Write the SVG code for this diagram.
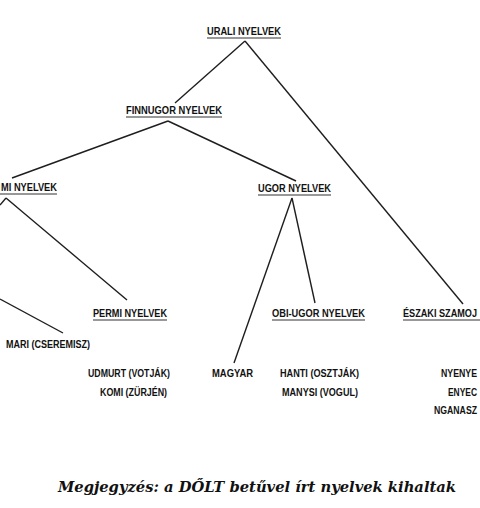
<svg xmlns="http://www.w3.org/2000/svg" width="480" height="508" viewBox="0 0 480 508">
<style>
.t{font-family:"Liberation Sans",Arial,sans-serif;font-weight:bold;font-size:11px;fill:#111}
.u{stroke:#333;stroke-width:1.2}
.c{stroke:#1e1e1e;stroke-width:1.4;fill:none}
.n{font-family:"DejaVu Serif","Liberation Serif",serif;font-weight:bold;font-style:italic;font-size:15px;fill:#111}
</style>
<rect width="480" height="508" fill="#fff"/>
<g id="connectors">
<line class="c" x1="245" y1="41" x2="175" y2="103"/>
<line class="c" x1="245" y1="41" x2="463" y2="304"/>
<line class="c" x1="168" y1="121" x2="12" y2="178"/>
<line class="c" x1="168" y1="121" x2="296" y2="181"/>
<line class="c" x1="6" y1="198" x2="0" y2="205"/>
<line class="c" x1="6" y1="198" x2="127" y2="300"/>
<line class="c" x1="0" y1="299" x2="63" y2="333"/>
<line class="c" x1="292" y1="198" x2="234" y2="363"/>
<line class="c" x1="292" y1="198" x2="315" y2="303"/>
</g>
<g id="urali"><text class="t" x="207" y="35" textLength="74" lengthAdjust="spacingAndGlyphs">URALI NYELVEK</text><line class="u" x1="207" y1="38" x2="281" y2="38"/></g>
<g id="finnugor"><text class="t" x="126" y="114" textLength="96" lengthAdjust="spacingAndGlyphs">FINNUGOR NYELVEK</text><line class="u" x1="126" y1="117" x2="222" y2="117"/></g>
<g id="mi"><text class="t" x="1" y="191" textLength="56" lengthAdjust="spacingAndGlyphs">MI NYELVEK</text><line class="u" x1="0" y1="194" x2="57" y2="194"/></g>
<g id="ugor"><text class="t" x="258" y="192" textLength="73" lengthAdjust="spacingAndGlyphs">UGOR NYELVEK</text><line class="u" x1="258" y1="195" x2="331" y2="195"/></g>
<g id="permi"><text class="t" x="93" y="317" textLength="74" lengthAdjust="spacingAndGlyphs">PERMI NYELVEK</text><line class="u" x1="93" y1="320" x2="167" y2="320"/></g>
<g id="obiugor"><text class="t" x="272" y="317" textLength="93" lengthAdjust="spacingAndGlyphs">OBI-UGOR NYELVEK</text><line class="u" x1="272" y1="320" x2="365" y2="320"/></g>
<g id="eszaki"><text class="t" x="403" y="317" textLength="74" lengthAdjust="spacingAndGlyphs">ÉSZAKI SZAMOJ</text><line class="u" x1="403" y1="320" x2="480" y2="320"/></g>
<g id="mari"><text class="t" x="6" y="348" textLength="84" lengthAdjust="spacingAndGlyphs">MARI (CSEREMISZ)</text></g>
<g id="udmurt"><text class="t" x="88" y="377" textLength="82" lengthAdjust="spacingAndGlyphs">UDMURT (VOTJÁK)</text></g>
<g id="komi"><text class="t" x="100" y="396" textLength="67" lengthAdjust="spacingAndGlyphs">KOMI (ZÜRJÉN)</text></g>
<g id="magyar"><text class="t" x="212" y="377" textLength="41" lengthAdjust="spacingAndGlyphs">MAGYAR</text></g>
<g id="hanti"><text class="t" x="280" y="377" textLength="79" lengthAdjust="spacingAndGlyphs">HANTI (OSZTJÁK)</text></g>
<g id="manysi"><text class="t" x="282" y="396" textLength="76" lengthAdjust="spacingAndGlyphs">MANYSI (VOGUL)</text></g>
<g id="nyenye"><text class="t" x="441" y="377" textLength="36" lengthAdjust="spacingAndGlyphs">NYENYE</text></g>
<g id="enyec"><text class="t" x="448" y="396" textLength="29" lengthAdjust="spacingAndGlyphs">ENYEC</text></g>
<g id="nganasz"><text class="t" x="434" y="414" textLength="43" lengthAdjust="spacingAndGlyphs">NGANASZ</text></g>
<text class="n" x="58" y="492" textLength="398" lengthAdjust="spacingAndGlyphs">Megjegyzés: a DŐLT betűvel írt nyelvek kihaltak</text>
</svg>
